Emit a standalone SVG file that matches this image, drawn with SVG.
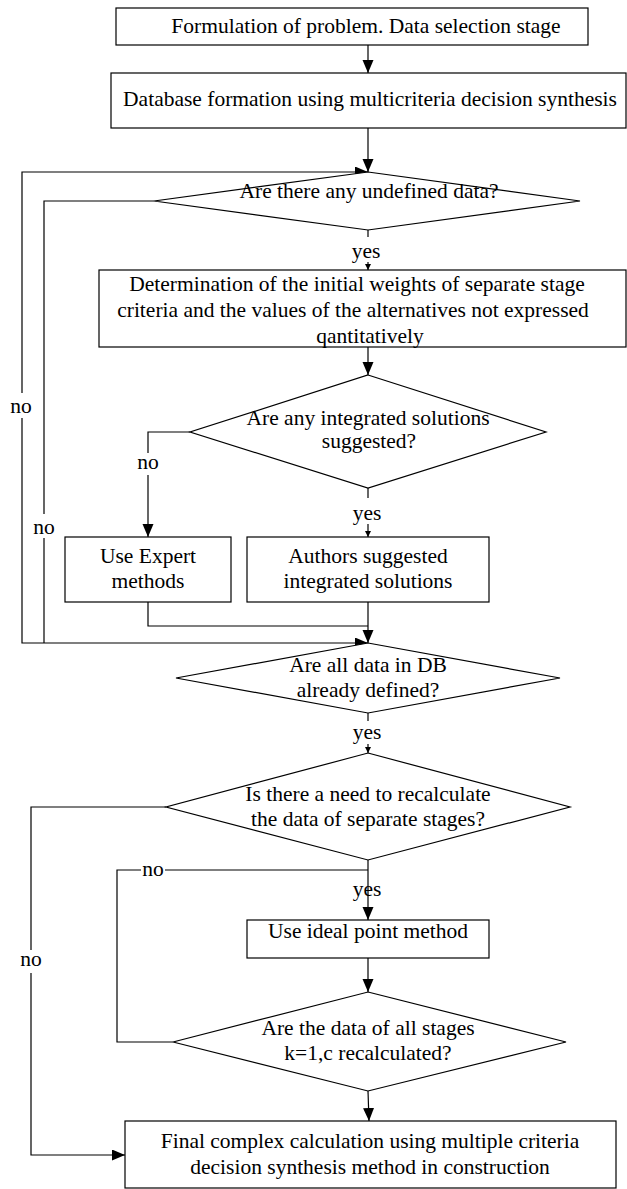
<svg xmlns="http://www.w3.org/2000/svg" width="627" height="1189" viewBox="0 0 627 1189">
<style>
  .box { fill: #fff; stroke: #000; stroke-width: 1.2; }
  .dia { fill: #fff; stroke: #000; stroke-width: 1.2; }
  .t { font-family: "Liberation Serif", "Times New Roman", serif; font-size: 21.5px; fill: #000; text-anchor: middle; }
  .c { fill: none; stroke: #000; stroke-width: 1.2; }
</style>
<defs>
  <marker id="ah" markerUnits="userSpaceOnUse" markerWidth="14" markerHeight="12" refX="13" refY="5.5" orient="auto">
    <path d="M0,0 L13,5.5 L0,11 Z" fill="#000"/>
  </marker>
  <marker id="as" markerUnits="userSpaceOnUse" markerWidth="8" markerHeight="8" refX="6" refY="3" orient="auto">
    <path d="M0,0 L6,3 L0,6 Z" fill="#000"/>
  </marker>
</defs>
<rect width="627" height="1189" fill="#fff"/>

<g id="connectors">
  <path class="c" d="M368,45 L368,73" marker-end="url(#ah)"/>
  <path class="c" d="M368,128 L368,172" marker-end="url(#ah)"/>
  <path class="c" d="M22,393 L22,172 L368,172" marker-end="url(#ah)"/>
  <path class="c" d="M22,418 L22,643 L368,643" marker-end="url(#ah)"/>
  <path class="c" d="M154,201 L44,201 L44,514"/>
  <path class="c" d="M44,538 L44,643"/>
  <path class="c" d="M368,230 L368,237"/>
  <path class="c" d="M368,262 L368,270" marker-end="url(#as)"/>
  <path class="c" d="M368,347 L368,375" marker-end="url(#ah)"/>
  <path class="c" d="M190,432 L148,432 L148,453"/>
  <path class="c" d="M148,475 L148,537" marker-end="url(#ah)"/>
  <path class="c" d="M368,488 L368,498"/>
  <path class="c" d="M368,524 L368,537" marker-end="url(#as)"/>
  <path class="c" d="M148,602 L148,626 L368,626"/>
  <path class="c" d="M368,602 L368,643" marker-end="url(#ah)"/>
  <path class="c" d="M368,713 L368,721"/>
  <path class="c" d="M368,744 L368,753" marker-end="url(#as)"/>
  <path class="c" d="M166,807 L31,807 L31,950"/>
  <path class="c" d="M31,973 L31,1155 L125,1155" marker-end="url(#ah)"/>
  <path class="c" d="M368,860 L368,920" marker-end="url(#ah)"/>
  <path class="c" d="M173,1042 L117,1042 L117,870 L141,870"/>
  <path class="c" d="M165,870 L368,870"/>
  <path class="c" d="M368,958 L368,992" marker-end="url(#ah)"/>
  <path class="c" d="M368,1091 L369,1121" marker-end="url(#ah)"/>
  <text class="t" x="366" y="258">yes</text>
  <text class="t" x="367" y="520">yes</text>
  <text class="t" x="367" y="739">yes</text>
  <text class="t" x="367" y="896">yes</text>
  <text class="t" x="148" y="469">no</text>
  <text class="t" x="21" y="413">no</text>
  <text class="t" x="44" y="534">no</text>
  <text class="t" x="153" y="876">no</text>
  <text class="t" x="31" y="966">no</text>
</g>

<g id="n1">
  <rect class="box" x="116" y="8" width="472" height="37"/>
  <text class="t" x="366" y="33">Formulation of problem. Data selection stage</text>
</g>
<g id="n2">
  <rect class="box" x="111" y="73" width="515" height="55"/>
  <text class="t" x="370" y="106">Database formation using multicriteria decision synthesis</text>
</g>
<g id="d1">
  <polygon class="dia" points="368,172 580,201 368,230 154,201"/>
  <text class="t" x="369" y="198">Are there any undefined data?</text>
</g>
<g id="n3">
  <rect class="box" x="99" y="270" width="527" height="77"/>
  <text class="t" x="357" y="291">Determination of the initial weights of separate stage</text>
  <text class="t" x="353" y="317">criteria and the values of the alternatives not expressed</text>
  <text class="t" x="370" y="343">qantitatively</text>
</g>
<g id="d2">
  <polygon class="dia" points="368,375 546,432 368,488 190,432"/>
  <text class="t" x="368" y="425">Are any integrated solutions</text>
  <text class="t" x="369" y="448">suggested?</text>
</g>
<g id="n4">
  <rect class="box" x="65" y="537" width="166" height="65"/>
  <text class="t" x="148" y="563">Use Expert</text>
  <text class="t" x="148" y="588">methods</text>
</g>
<g id="n5">
  <rect class="box" x="247" y="537" width="242" height="65"/>
  <text class="t" x="368" y="563">Authors suggested</text>
  <text class="t" x="368" y="588">integrated solutions</text>
</g>
<g id="d3">
  <polygon class="dia" points="368,643 560,678 368,713 176,678"/>
  <text class="t" x="368" y="672">Are all data in DB</text>
  <text class="t" x="368" y="697">already defined?</text>
</g>
<g id="d4">
  <polygon class="dia" points="368,753 570,807 368,860 166,807"/>
  <text class="t" x="368" y="801">Is there a need to recalculate</text>
  <text class="t" x="368" y="826">the data of separate stages?</text>
</g>
<g id="n6">
  <rect class="box" x="247" y="920" width="242" height="38"/>
  <text class="t" x="368" y="938">Use ideal point method</text>
</g>
<g id="d5">
  <polygon class="dia" points="368,992 566,1042 368,1091 173,1042"/>
  <text class="t" x="368" y="1035">Are the data of all stages</text>
  <text class="t" x="368" y="1060">k=1,c recalculated?</text>
</g>
<g id="n7">
  <rect class="box" x="125" y="1121" width="491" height="67"/>
  <text class="t" x="370" y="1148">Final complex calculation using multiple criteria</text>
  <text class="t" x="370" y="1174">decision synthesis method in construction</text>
</g>
</svg>
